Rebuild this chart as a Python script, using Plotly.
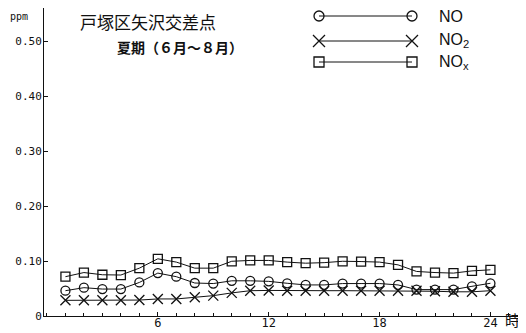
import plotly.graph_objects as go

hours = list(range(1, 25))
no = [0.046, 0.0515, 0.049, 0.049, 0.061, 0.078, 0.0715, 0.060, 0.059, 0.064, 0.064, 0.063,
      0.0595, 0.0565, 0.0565, 0.059, 0.059, 0.059, 0.0565, 0.048, 0.048, 0.048, 0.054, 0.0595]
no2 = [0.0285, 0.0285, 0.0285, 0.0285, 0.029, 0.031, 0.031, 0.034, 0.037, 0.042, 0.046, 0.0465,
       0.046, 0.046, 0.046, 0.046, 0.046, 0.046, 0.046, 0.046, 0.045, 0.044, 0.044, 0.046]
nox = [0.0715, 0.079, 0.075, 0.0745, 0.087, 0.104, 0.098, 0.087, 0.087, 0.0995, 0.101, 0.101,
       0.098, 0.096, 0.097, 0.0995, 0.099, 0.098, 0.093, 0.081, 0.079, 0.078, 0.082, 0.084]

series_names = ["NO", "NO<sub>2</sub>", "NO<sub>x</sub>"]
series_vals = [no, no2, nox]
symbols = ["circle-open", "x-thin-open", "square-open"]
ytick_vals = [0, 0.1, 0.2, 0.3, 0.4, 0.5]
ytick_text = ["0", "0.10", "0.20", "0.30", "0.40", "0.50"]
xtick_vals = [6, 12, 18, 24]
xtick_text = ["6", "12", "18", "24"]

BLACK = "#111111"
mono = "DejaVu Sans Mono"
# the page body adds an 8px offset, so the figure is 8px smaller than the window
OFF = 8
W, H = 526 - OFF, 333 - OFF
PL, PR, PT, PB = 44, 520, 8, 316       # plot box in window pixels
ML, MR, MT, MB = PL - OFF, W - (PR - OFF), PT - OFF, H - (PB - OFF)


def px_x(p):
    return (p - PL) / (PR - PL)


def px_y(p):
    return (PB - p) / (PB - PT)


fig = go.Figure()
for vals, sym in zip(series_vals, symbols):
    fig.add_trace(go.Scatter(
        x=hours, y=vals, mode="lines+markers",
        line=dict(color=BLACK, width=1),
        marker=dict(symbol=sym, size=9 if sym != "x-thin-open" else 10,
                    color=BLACK, line=dict(color=BLACK, width=1.3)),
        showlegend=False, cliponaxis=False))

# legend samples on a hidden pixel-like axis pair
leg_y = [16, 41, 62]
leg_x0, leg_x1, leg_tx = 319, 412, 437
for name, sym, ly in zip(series_names, symbols, leg_y):
    fig.add_trace(go.Scatter(
        x=[leg_x0, leg_x1], y=[ly, ly], xaxis="x2", yaxis="y2",
        mode="lines+markers", line=dict(color=BLACK, width=1),
        marker=dict(symbol=sym, size=10 if sym != "x-thin-open" else 12,
                    color=BLACK, line=dict(color=BLACK, width=1.3)),
        showlegend=False, cliponaxis=False))
    fig.add_annotation(x=px_x(leg_tx), y=px_y(ly), xref="paper", yref="paper", text=name,
                       showarrow=False, xanchor="left", yanchor="middle",
                       font=dict(family="Liberation Sans", size=16, color=BLACK))

fig.add_annotation(x=px_x(8), y=px_y(16), xref="paper", yref="paper", text="ppm", showarrow=False,
                   xanchor="left", yanchor="middle",
                   font=dict(family=mono, size=10, color=BLACK))
fig.add_annotation(x=px_x(78), y=px_y(21), xref="paper", yref="paper", text="戸塚区矢沢交差点",
                   showarrow=False, xanchor="left", yanchor="middle",
                   font=dict(family="Noto Sans CJK JP", size=17, color=BLACK))
fig.add_annotation(x=px_x(115), y=px_y(47), xref="paper", yref="paper",
                   text="<b>夏期（６月～８月）</b>", showarrow=False,
                   xanchor="left", yanchor="middle",
                   font=dict(family="Noto Sans CJK JP", size=14, color=BLACK))
fig.add_annotation(x=px_x(522), y=px_y(320), xref="paper", yref="paper", text="時",
                   showarrow=False, xanchor="right", yanchor="middle",
                   font=dict(family="Noto Sans CJK JP", size=15, color=BLACK))

fig.update_layout(
    width=W, height=H,
    margin=dict(l=ML, r=MR, t=MT, b=MB, pad=0),
    paper_bgcolor="white", plot_bgcolor="white",
    xaxis=dict(range=[-0.16, 25.6], showgrid=False, zeroline=False, automargin=False,
               showline=True, linecolor=BLACK, linewidth=1,
               tickmode="array", tickvals=xtick_vals, ticktext=xtick_text,
               ticks="inside", ticklen=4, tickcolor=BLACK, ticklabelstandoff=-4,
               minor=dict(tickmode="linear", tick0=0, dtick=1, ticks="inside",
                          ticklen=3, tickcolor=BLACK),
               tickfont=dict(family=mono, size=12, color=BLACK)),
    yaxis=dict(range=[0, (PB - PT) / 550], showgrid=False, zeroline=False, automargin=False,
               showline=True, linecolor=BLACK, linewidth=1,
               tickmode="array", tickvals=ytick_vals, ticktext=ytick_text,
               ticks="inside", ticklen=4, tickcolor=BLACK, ticklabelstandoff=-1,
               tickfont=dict(family=mono, size=11, color=BLACK)),
    xaxis2=dict(range=[PL, PR], overlaying="x", visible=False, automargin=False),
    yaxis2=dict(range=[PB, PT], overlaying="y", visible=False, automargin=False),
)

fig.write_html("out.html")
